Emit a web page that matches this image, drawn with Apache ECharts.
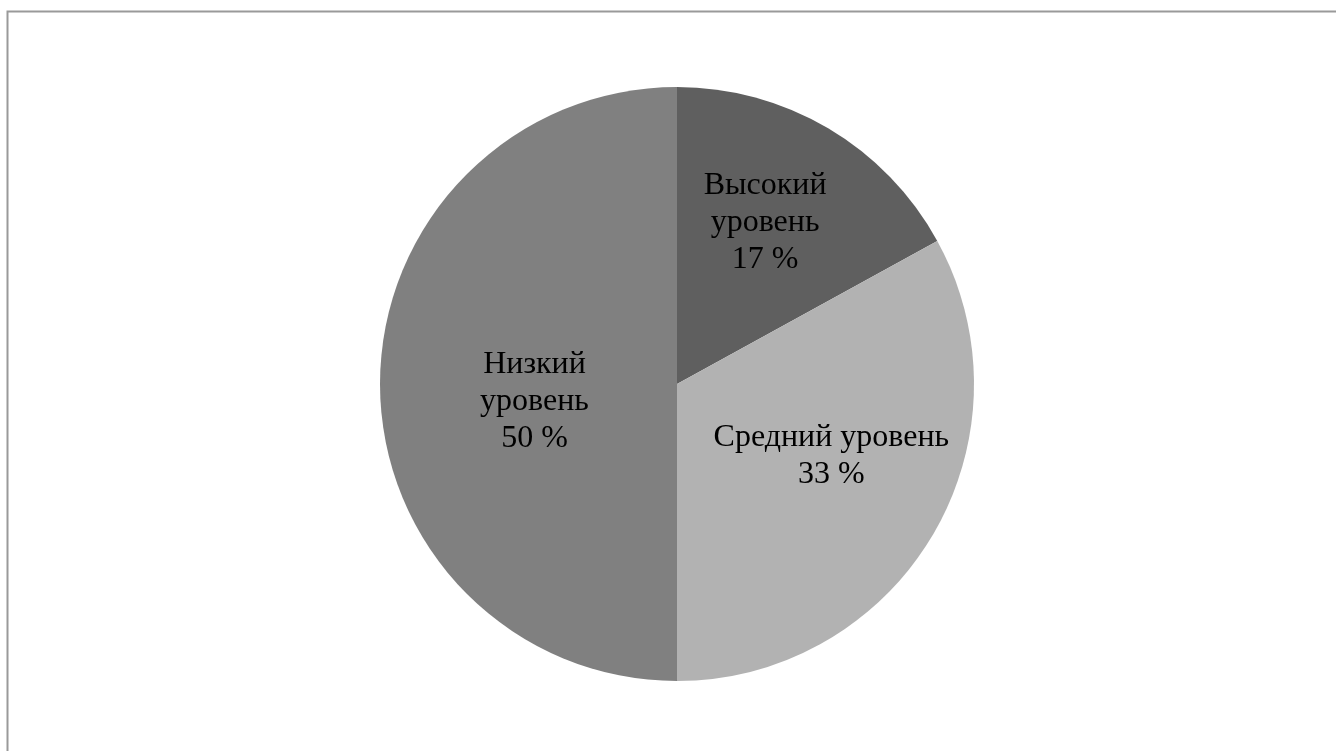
<!DOCTYPE html>
<html>
<head>
<meta charset="utf-8">
<script src="https://cdn.jsdelivr.net/npm/echarts@6/dist/echarts.min.js"></script>
<style>
html,body{margin:0;padding:0;background:#fff;}
#chart{width:1336px;height:751px;}
</style>
</head>
<body>
<div id="chart"></div>
<script>
const categories = ['Высокий уровень', 'Средний уровень', 'Низкий уровень'];
const labelTexts = ['Высокий\nуровень', 'Средний уровень', 'Низкий\nуровень'];
const values = [17, 33, 50];
const colors = ['#5f5f5f', '#b2b2b2', '#808080'];

const labelShift = [[11, -31], [24, -5], [9, 18]];

const chart = echarts.init(document.getElementById('chart'), null, {renderer: 'canvas'});
chart.setOption({
  backgroundColor: '#ffffff',
  animation: false,
  graphic: [{
    type: 'polyline',
    shape: {points: [[7.5, 751], [7.5, 11.5], [1336, 11.5]]},
    style: {stroke: '#9a9a9a', lineWidth: 2, fill: null},
    silent: true
  }],
  series: [{
    type: 'pie',
    center: [677, 384],
    radius: 297,
    startAngle: 90,
    clockwise: true,
    data: categories.map((c, i) => ({name: c, value: values[i], itemStyle: {color: colors[i]}})),
    itemStyle: {borderWidth: 0},
    label: {
      show: true,
      position: 'inside',
      formatter: p => labelTexts[p.dataIndex] + '\n' + p.value + ' %',
      color: '#000',
      fontFamily: '"Liberation Serif", "DejaVu Serif", serif',
      fontSize: 32,
      lineHeight: 37,
      align: 'center'
    },
    labelLayout: p => ({dx: labelShift[p.dataIndex][0], dy: labelShift[p.dataIndex][1]}),
    emphasis: {disabled: true}
  }]
});
</script>
</body>
</html>
